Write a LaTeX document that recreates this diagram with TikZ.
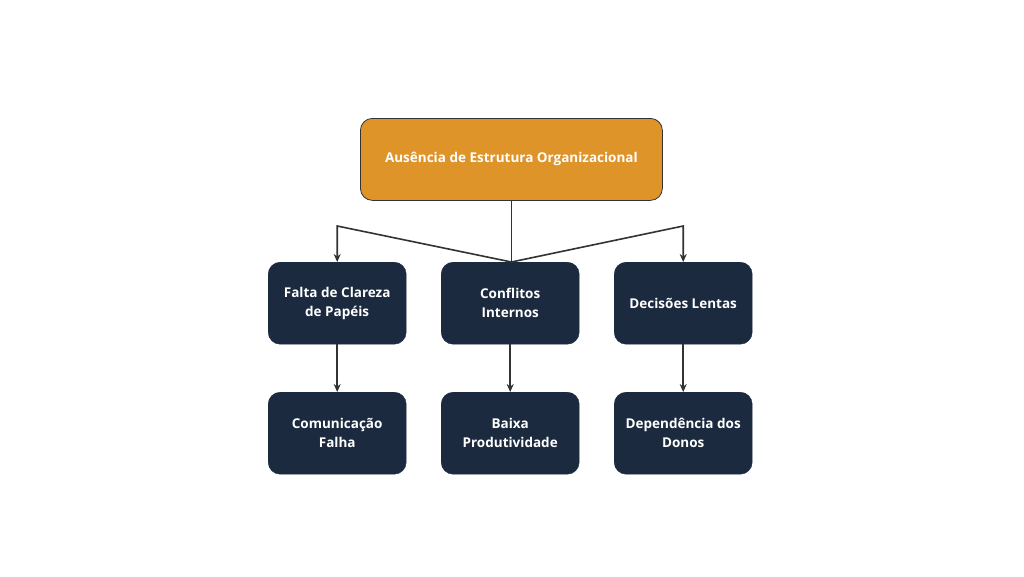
\documentclass[tikz,border=0pt]{standalone}
\usepackage{fontspec}
\setmainfont{Open Sans}
\usetikzlibrary{arrows.meta}
\definecolor{orng}{HTML}{DE9429}
\definecolor{navy}{HTML}{1B2A3E}
\definecolor{ln}{HTML}{333333}
\begin{document}
\begin{tikzpicture}[x=1pt,y=-1pt,
 box/.style={rounded corners=12pt,fill=navy,draw=navy,minimum width=138pt,minimum height=82pt,text=white,font=\bfseries\fontsize{13.5}{19}\selectfont,align=center,anchor=north west},
 top/.style={box,fill=orng,draw=ln,line width=0.8pt,minimum width=302pt},
 conn/.style={draw=ln,line width=1.6pt},
 arr/.style={conn,-{Stealth[length=8pt,width=7pt]}}]
\useasboundingbox (0,0) rectangle (1024,576);
\node[top] (t) at (360,118) {Ausência de Estrutura Organizacional};
\node[box] (a1) at (268,262) {Falta de Clareza\\de Papéis};
\node[box] (a2) at (441,262) {Conflitos\\Internos};
\node[box] (a3) at (614,262) {Decisões Lentas};
\node[box] (b1) at (268,392) {Comunicação\\Falha};
\node[box] (b2) at (441,392) {Baixa\\Produtividade};
\node[box] (b3) at (614,392) {Dependência dos\\Donos};
\coordinate (j) at (t.south |- a2.north);
\coordinate (l) at (a1.north |- 0,226);
\coordinate (r) at (a3.north |- 0,226);
\draw[conn] (t.south) -- (j);
\draw[arr] (j) -- (l) -- (a1.north);
\draw[arr] (j) -- (r) -- (a3.north);
\draw[arr] (a1) -- (b1);
\draw[arr] (a2) -- (b2);
\draw[arr] (a3) -- (b3);
\end{tikzpicture}
\end{document}
